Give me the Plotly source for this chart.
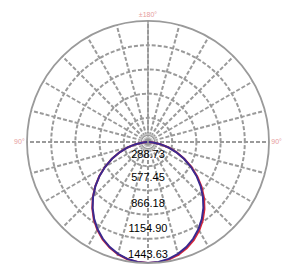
import plotly.graph_objects as go

# Data
angles = [-90, -85, -80, -75, -70, -65, -60, -55, -50, -45, -40, -35, -30, -25, -20, -15, -10, -5,
          0, 5, 10, 15, 20, 25, 30, 35, 40, 45, 50, 55, 60, 65, 70, 75, 80, 85, 90]
c0_180 = [12, 60, 150, 252, 362, 475, 592, 708, 822, 931, 1034, 1128, 1210, 1282, 1341, 1387, 1420, 1438,
          1443, 1440, 1425, 1395, 1350, 1292, 1222, 1140, 1048, 946, 836, 720, 600, 480, 364, 254, 152, 62, 12]
c90_270 = [10, 61, 150, 251, 360, 474, 590, 706, 819, 927, 1028, 1120, 1202, 1274, 1334, 1382, 1416, 1436,
           1443, 1436, 1416, 1382, 1334, 1274, 1202, 1120, 1028, 927, 819, 706, 590, 474, 360, 251, 150, 61, 10]
ring_values = [288.73, 577.45, 866.18, 1154.90, 1443.63]
ring_labels = ["288.73", "577.45", "866.18", "1154.90", "1443.63"]
label_r = [0.55 * 288.73, 1.5 * 288.73, 2.57 * 288.73, 3.6 * 288.73, 4.68 * 288.73]
angle_ticks = list(range(0, 360, 15))
angle_text = {90: "90°", 180: "±180°", 270: "90°"}

grid = "#9a9a9a"

fig = go.Figure()

# solid vertical axis line (top half)
fig.add_trace(go.Scatterpolar(theta=[180, 180], r=[0, ring_values[-1]], mode="lines",
                              line=dict(color=grid, width=1.4), hoverinfo="skip", showlegend=False))
# small rings at the center
fig.add_trace(go.Scatterpolar(theta=[0], r=[0], mode="markers",
                              marker=dict(symbol="circle-open", size=16, color="#c4c4c4", line=dict(width=1.5)),
                              hoverinfo="skip", showlegend=False))
fig.add_trace(go.Scatterpolar(theta=[0], r=[0], mode="markers",
                              marker=dict(symbol="circle-open", size=9, color="#c4c4c4", line=dict(width=1.5)),
                              hoverinfo="skip", showlegend=False))

fig.add_trace(go.Scatterpolar(theta=angles, r=c0_180, mode="lines",
                              line=dict(color="#d8283a", width=2), name="C0-180", showlegend=False))
fig.add_trace(go.Scatterpolar(theta=angles, r=c90_270, mode="lines",
                              line=dict(color="#3b2a8f", width=2), name="C90-270", showlegend=False))

fig.add_trace(go.Scatterpolar(theta=[0] * len(label_r), r=label_r, mode="text", text=ring_labels,
                              textfont=dict(family="Liberation Sans, Arial", size=11, color="#000000"),
                              hoverinfo="skip", showlegend=False))

fig.update_layout(
    width=288, height=269,
    margin=dict(l=27, r=19, t=21, b=6),
    paper_bgcolor="white",
    showlegend=False,
    polar=dict(
        bgcolor="white",
        domain=dict(x=[0, 1], y=[0, 1]),
        angularaxis=dict(
            rotation=-90, direction="counterclockwise",
            tickmode="array", tickvals=angle_ticks,
            ticktext=[angle_text.get(a, "") for a in angle_ticks],
            ticks="", tickfont=dict(family="Liberation Sans, Arial", size=7, color="#e69c9c"),
            showgrid=True, gridcolor=grid, gridwidth=1.5, griddash="4px,2px",
            showline=True, linecolor=grid, linewidth=1.8,
        ),
        radialaxis=dict(
            range=[0, ring_values[-1]], tickmode="array", tickvals=ring_values,
            showticklabels=False, ticks="", showline=False,
            showgrid=True, gridcolor=grid, gridwidth=1.5, griddash="4px,2px",
        ),
    ),
)

fig.write_html("out.html", config={"displayModeBar": False},
               post_script="document.body.style.margin='0';document.body.style.overflow='hidden';")
